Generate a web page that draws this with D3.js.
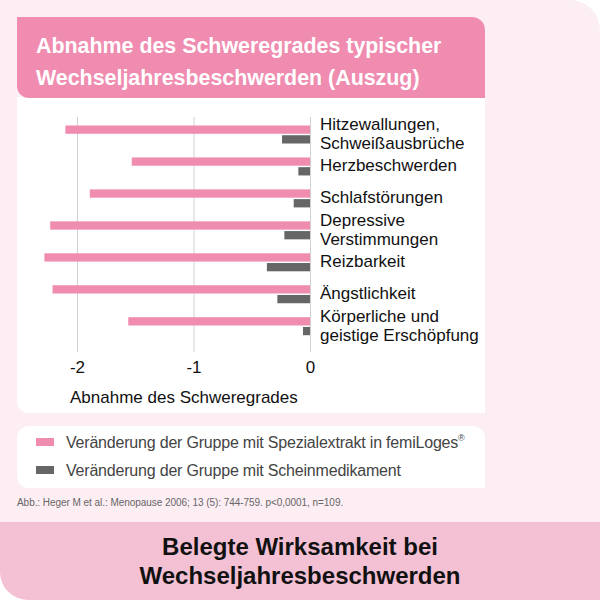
<!DOCTYPE html>
<html lang="de">
<head>
<meta charset="UTF-8">
<title>Abnahme des Schweregrades typischer Wechseljahresbeschwerden</title>
<script src="https://d3js.org/d3.v7.min.js"></script>
<style>
    body {
        margin: 0;
        background: #fff;
        font-family: "Liberation Sans", Arial, Helvetica, sans-serif;
    }
    svg { display: block; }
    .tick text { font-size: 17px; fill: #111; }
    .tick line { stroke: #cfcfcf; }
</style>
</head>
<body>
<svg id="chart" width="600" height="600"></svg>
<script>
// data
const categories = ["Hitzewallungen, Schweißausbrüche", "Herzbeschwerden", "Schlafstörungen",
    "Depressive Verstimmungen", "Reizbarkeit", "Ängstlichkeit", "Körperliche und geistige Erschöpfung"];
const categoryLines = [["Hitzewallungen,", "Schweißausbrüche"], ["Herzbeschwerden"], ["Schlafstörungen"],
    ["Depressive", "Verstimmungen"], ["Reizbarkeit"], ["Ängstlichkeit"], ["Körperliche und", "geistige Erschöpfung"]];
const femiValues = [-2.10, -1.53, -1.89, -2.23, -2.28, -2.21, -1.56];
const placeboValues = [-0.24, -0.10, -0.14, -0.22, -0.37, -0.28, -0.06];
const xTicks = [-2, -1, 0];
const seriesNames = ["Veränderung der Gruppe mit Spezialextrakt in femiLoges", "Veränderung der Gruppe mit Scheinmedikament"];
const titleLines = ["Abnahme des Schweregrades typischer", "Wechseljahresbeschwerden (Auszug)"];
const bannerLines = ["Belegte Wirksamkeit bei", "Wechseljahresbeschwerden"];
const axisTitle = "Abnahme des Schweregrades";
const citation = "Abb.: Heger M et al.: Menopause 2006; 13 (5): 744-759. p<0,0001, n=109.";

const pink = "#ef8cb0";
const grey = "#666666";
const seriesColors = [pink, grey];

const svg = d3.select("#chart");

// rect with separate corner radii [tl, tr, br, bl]
function roundRect(x, y, w, h, r) {
    const [tl, tr, br, bl] = r;
    const p = d3.path();
    p.moveTo(x + tl, y);
    p.lineTo(x + w - tr, y);
    p.arcTo(x + w, y, x + w, y + tr, tr);
    p.lineTo(x + w, y + h - br);
    p.arcTo(x + w, y + h, x + w - br, y + h, br);
    p.lineTo(x + bl, y + h);
    p.arcTo(x, y + h, x, y + h - bl, bl);
    p.lineTo(x, y + tl);
    p.arcTo(x, y, x + tl, y, tl);
    p.closePath();
    return p.toString();
}

// page background, banner, boxes
svg.append("path").attr("d", roundRect(0, 0, 600, 600, [0, 30, 0, 28])).attr("fill", "#fdeef4");
svg.append("path").attr("d", roundRect(0, 522, 600, 78, [0, 0, 0, 28])).attr("fill", "#f4c1d4");
svg.append("path").attr("d", roundRect(17, 97, 468, 316, [0, 0, 0, 12])).attr("fill", "#fff");
svg.append("path").attr("d", roundRect(17, 17, 468, 81, [0, 13, 0, 12])).attr("fill", pink);
svg.append("path").attr("d", roundRect(17, 426, 468, 62, [12, 12, 0, 12])).attr("fill", "#fff");

svg.append("g").selectAll("text")
    .data(titleLines)
    .join("text")
    .attr("x", 36)
    .attr("y", (d, i) => 53 + i * 31.5)
    .attr("fill", "#fff")
    .attr("font-weight", "bold")
    .attr("font-size", 21.4)
    .text(d => d);

// scales
const x = d3.scaleLinear().domain([-2, 0]).range([77, 310]);
const y = d3.scalePoint().domain(categories).range([134.5, 326.2]);
const sub = d3.scaleBand().domain([0, 1]).range([-9, 9]).paddingInner(0.15);

// grid lines + tick labels (plain hyphen minus like the original)
svg.append("g")
    .attr("transform", "translate(0,352)")
    .call(d3.axisBottom(x).tickValues(xTicks).tickSize(-235).tickPadding(8.5).tickFormat(d => String(d)))
    .call(g => g.select(".domain").remove())
    .call(g => g.selectAll("text").attr("font-family", "inherit"));

const rows = categories.map((c, i) => ({ cat: c, vals: [femiValues[i], placeboValues[i]], lines: categoryLines[i] }));

const groups = svg.append("g").selectAll("g")
    .data(rows)
    .join("g")
    .attr("transform", d => `translate(0,${y(d.cat)})`);

groups.selectAll("rect")
    .data(d => d.vals)
    .join("rect")
    .attr("x", d => x(d))
    .attr("y", (d, i) => sub(i))
    .attr("width", d => x(0) - x(d))
    .attr("height", sub.bandwidth())
    .attr("fill", (d, i) => seriesColors[i]);

groups.append("text")
    .attr("font-size", 17)
    .attr("fill", "#111")
    .selectAll("tspan")
    .data(d => d.lines.map((t, j) => ({ t, j, n: d.lines.length })))
    .join("tspan")
    .attr("x", 320)
    .attr("y", d => 5 + (d.j - (d.n - 1) / 2) * 19)
    .text(d => d.t);

svg.append("text")
    .attr("x", 70)
    .attr("y", 403)
    .attr("font-size", 17)
    .attr("fill", "#111")
    .text(axisTitle);

// legend
const legend = svg.append("g").selectAll("g")
    .data(seriesNames)
    .join("g")
    .attr("transform", (d, i) => `translate(0,${442 + i * 28})`);

legend.append("rect")
    .attr("x", 36).attr("y", -4)
    .attr("width", 18).attr("height", 8)
    .attr("fill", (d, i) => seriesColors[i]);

const legendText = legend.append("text")
    .attr("x", 66)
    .attr("y", 6)
    .attr("font-size", 16)
    .attr("letter-spacing", -0.2)
    .attr("fill", "#444")
    .text(d => d);

legendText.filter((d, i) => i === 0)
    .append("tspan")
    .attr("font-size", 9)
    .attr("dy", -7)
    .text("®");

svg.append("text")
    .attr("x", 17)
    .attr("y", 506)
    .attr("font-size", 10)
    .attr("fill", "#666")
    .attr("letter-spacing", -0.05)
    .text(citation);

svg.append("g").selectAll("text")
    .data(bannerLines)
    .join("text")
    .attr("x", 300)
    .attr("y", (d, i) => 555 + i * 28.5)
    .attr("text-anchor", "middle")
    .attr("font-weight", "bold")
    .attr("font-size", 24)
    .attr("fill", "#111")
    .text(d => d);
</script>
</body>
</html>
